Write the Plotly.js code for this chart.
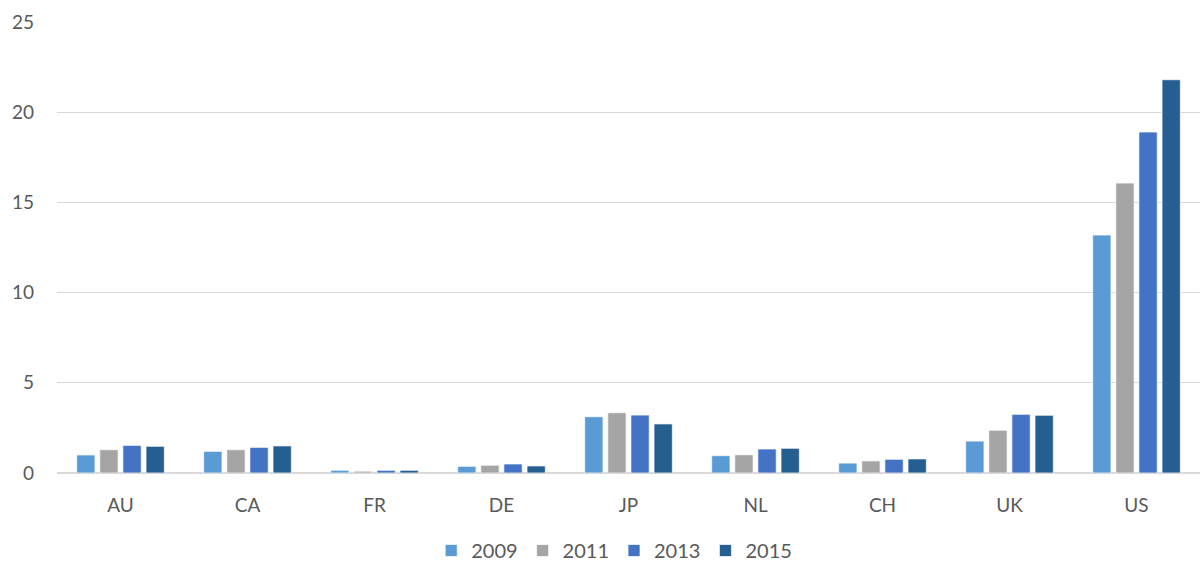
<!DOCTYPE html>
<html>
<head>
<meta charset="utf-8">
<script src="https://cdn.plot.ly/plotly-3.0.1.min.js"></script>
<style>html,body{margin:0;padding:0;background:#fff;}#chart{width:1200px;height:570px;}</style>
</head>
<body>
<div id="chart"></div>
<script>
const categories = ["AU", "CA", "FR", "DE", "JP", "NL", "CH", "UK", "US"];
const years = ["2009", "2011", "2013", "2015"];
const values2009 = [1.0, 1.2, 0.15, 0.37, 3.12, 0.96, 0.55, 1.77, 13.19];
const values2011 = [1.29, 1.29, 0.1, 0.43, 3.34, 1.01, 0.67, 2.37, 16.07];
const values2013 = [1.53, 1.42, 0.15, 0.5, 3.21, 1.33, 0.76, 3.25, 18.9];
const values2015 = [1.48, 1.5, 0.15, 0.39, 2.72, 1.37, 0.78, 3.2, 21.8];
const seriesValues = [values2009, values2011, values2013, values2015];
const colors = ["#5B9BD5", "#A5A5A5", "#4472C4", "#255E91"];

const traces = years.map((y, i) => ({
  type: "bar",
  name: y,
  x: categories,
  y: seriesValues[i],
  marker: { color: colors[i], line: { color: "rgba(255,255,255,0.7)", width: 1 } },
  hoverinfo: "x+y+name"
}));

const font = { family: "Lato, 'Open Sans', sans-serif", size: 19, color: "#595959" };

const layout = {
  width: 1200,
  height: 570,
  margin: { l: 57, r: 0, t: 22, b: 97 },
  paper_bgcolor: "#fff",
  plot_bgcolor: "#fff",
  font: font,
  barmode: "group",
  bargap: 0.272,
  bargroupgap: 0.208,
  showlegend: true,
  legend: {
    orientation: "h",
    x: 0.4875,
    xanchor: "center",
    xref: "paper",
    yref: "container",
    y: -0.012,
    yanchor: "bottom",
    font: { family: font.family, size: 20, color: "#595959" },
    itemwidth: 30,
    traceorder: "normal"
  },
  xaxis: {
    type: "category",
    showgrid: false,
    showline: false,
    ticks: "",
    ticklabelstandoff: 19,
    tickfont: font,
    zeroline: false
  },
  yaxis: {
    range: [0, 25],
    dtick: 5,
    showgrid: true,
    gridcolor: "#d9d9d9",
    gridwidth: 1,
    zeroline: true,
    zerolinecolor: "#d9d9d9",
    zerolinewidth: 2,
    ticks: "",
    ticklabelstandoff: 22,
    tickfont: font,
    showline: false
  }
};

Plotly.newPlot("chart", traces, layout, { displayModeBar: false, staticPlot: false });
</script>
</body>
</html>
